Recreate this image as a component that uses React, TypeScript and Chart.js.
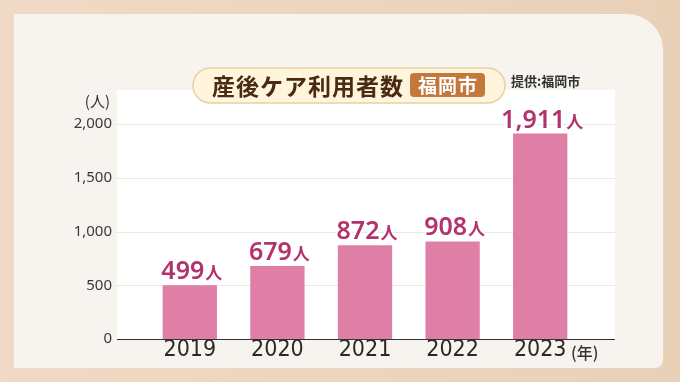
import React, { useEffect, useRef } from "react";
import { Chart, registerables } from "chart.js";

Chart.register(...registerables);

const years = ["2019", "2020", "2021", "2022", "2023"];
const users = [499, 679, 872, 908, 1911];
const yTickValues = [0, 500, 1000, 1500, 2000];
const titleText = "産後ケア利用者数";
const cityText = "福岡市";
const sourceText = "提供:福岡市";
const yUnitText = "(人)";
const xUnitText = "(年)";
const valueUnit = "人";

const BAR_COLOR = "#DF7FA6";
const LABEL_COLOR = "#B3346D";
const JP = '"Noto Sans CJK JP", "Noto Sans", sans-serif';

function roundRect(ctx: CanvasRenderingContext2D, x: number, y: number, w: number, h: number, r: number[]) {
  ctx.beginPath();
  (ctx as any).roundRect(x, y, w, h, r);
}

const decorPlugin = {
  id: "decor",
  beforeDraw(chart: any) {
    const { ctx, chartArea, scales } = chart;
    const W = chart.width;
    const H = chart.height;
    ctx.save();
    // outer background
    const g = ctx.createLinearGradient(0, 0, W, 0);
    g.addColorStop(0, "#F0DAC5");
    g.addColorStop(1, "#E9D1B8");
    ctx.fillStyle = g;
    ctx.fillRect(0, 0, W, H);
    // inner panel
    ctx.fillStyle = "#F7F3EE";
    roundRect(ctx, 14, 14, 649, 354, [0, 36, 8, 0]);
    ctx.fill();
    // white plot area
    const left = chartArea.left - 29;
    const right = chartArea.right + 31;
    const top = chartArea.top - 34;
    ctx.fillStyle = "#FFFFFF";
    ctx.fillRect(left, top, right - left, chartArea.bottom - top);
    // grid lines
    const y = scales.y;
    y.ticks.forEach((t: any) => {
      if (t.value === 0) return;
      const py = Math.round(y.getPixelForValue(t.value)) + 0.5;
      ctx.strokeStyle = "#EEE7DB";
      ctx.lineWidth = 1;
      ctx.beginPath();
      ctx.moveTo(left, py);
      ctx.lineTo(right, py);
      ctx.stroke();
    });
    ctx.restore();
  },
  afterDatasetsDraw(chart: any) {
    const { ctx, chartArea, scales } = chart;
    const left = chartArea.left - 29;
    const right = chartArea.right + 31;
    ctx.save();
    // zero line
    const py0 = Math.round(scales.y.getPixelForValue(0)) + 0.5;
    ctx.strokeStyle = "#333333";
    ctx.lineWidth = 1.2;
    ctx.beginPath();
    ctx.moveTo(left, py0);
    ctx.lineTo(right, py0);
    ctx.stroke();

    // value labels
    const meta = chart.getDatasetMeta(0);
    const data = chart.data.datasets[0].data as number[];
    meta.data.forEach((bar: any, i: number) => {
      const numText = data[i].toLocaleString("en-US");
      const numFont = '600 25px "Noto Sans", sans-serif';
      const unitFont = "600 17px " + JP;
      ctx.font = numFont;
      const wNum = ctx.measureText(numText).width;
      ctx.font = unitFont;
      const wUnit = ctx.measureText(valueUnit).width;
      const total = wNum + 1 + wUnit;
      const x0 = bar.x + 2 - total / 2;
      const base = bar.y - 6;
      ctx.textBaseline = "alphabetic";
      ctx.textAlign = "left";
      ctx.lineJoin = "round";
      ctx.strokeStyle = "#FFFFFF";
      ctx.lineWidth = 4;
      ctx.fillStyle = LABEL_COLOR;
      ctx.font = numFont;
      ctx.strokeText(numText, x0, base);
      ctx.fillText(numText, x0, base);
      ctx.font = unitFont;
      ctx.strokeText(valueUnit, x0 + wNum + 1, base);
      ctx.fillText(valueUnit, x0 + wNum + 1, base);
    });

    // title pill
    ctx.fillStyle = "#FFF5DC";
    ctx.strokeStyle = "#E8D29E";
    ctx.lineWidth = 1.5;
    roundRect(ctx, 193, 68, 312, 35, [17.5]);
    ctx.fill();
    ctx.stroke();
    ctx.fillStyle = "#4A2A12";
    ctx.font = "700 23px " + JP;
    (ctx as any).letterSpacing = "1px";
    ctx.textAlign = "left";
    ctx.textBaseline = "middle";
    ctx.fillText(titleText, 212, 86);
    // city badge
    ctx.fillStyle = "#C4783C";
    roundRect(ctx, 410, 73, 75, 24, [4]);
    ctx.fill();
    ctx.fillStyle = "#FFFFFF";
    ctx.font = "700 19px " + JP;
    ctx.textAlign = "center";
    ctx.fillText(cityText, 448, 86);
    (ctx as any).letterSpacing = "0px";
    // source
    ctx.fillStyle = "#333333";
    ctx.font = "700 13px " + JP;
    ctx.textAlign = "left";
    ctx.fillText(sourceText, 511, 81);
    // y unit
    ctx.font = "400 15px " + JP;
    ctx.textAlign = "right";
    ctx.fillText(yUnitText, 110, 101);
    // x unit
    ctx.font = "500 16px " + JP;
    ctx.textAlign = "left";
    ctx.fillText(xUnitText, 571, 353);
    ctx.restore();
  },
};

export default function App() {
  const ref = useRef<HTMLCanvasElement | null>(null);
  useEffect(() => {
    if (!ref.current) return;
    const chart = new Chart(ref.current, {
      type: "bar",
      data: {
        labels: years,
        datasets: [
          {
            data: users,
            backgroundColor: BAR_COLOR,
            borderWidth: 0,
            barPercentage: 0.62,
            categoryPercentage: 1,
          },
        ],
      },
      options: {
        responsive: false,
        animation: false,
        devicePixelRatio: 1,
        layout: { padding: { top: 124, right: 96, bottom: 0, left: 0 } },
        plugins: { legend: { display: false }, tooltip: { enabled: false }, title: { display: false } },
        scales: {
          x: {
            grid: { display: false, drawTicks: false },
            border: { display: false },
            ticks: {
              padding: 0,
              color: "#2A2A2A",
              font: { family: '"DejaVu Sans Condensed", "Noto Sans", sans-serif', size: 23, lineHeight: 1 },
            },
            afterFit: (s: any) => {
              s.height = 42;
            },
          },
          y: {
            min: 0,
            max: 2000,
            grid: { display: false, drawTicks: false },
            border: { display: false },
            afterBuildTicks: (s: any) => {
              s.ticks = yTickValues.map((v) => ({ value: v }));
            },
            ticks: {
              padding: 34,
              color: "#3A3A3A",
              font: { family: '"Noto Sans", sans-serif', size: 15 },
              callback: (v: any) => Number(v).toLocaleString("en-US"),
            },
            afterFit: (s: any) => {
              s.width = 146;
            },
          },
        },
      },
      plugins: [decorPlugin],
    });
    return () => chart.destroy();
  }, []);
  return (
    <div style={{ position: "fixed", left: 0, top: 0, width: 680, height: 382 }}>
      <canvas ref={ref} width={680} height={382} style={{ display: "block", width: 680, height: 382 }} />
    </div>
  );
}
